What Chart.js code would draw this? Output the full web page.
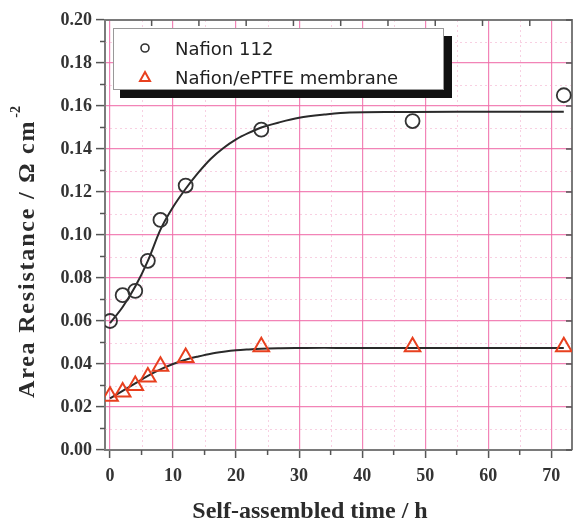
<!DOCTYPE html>
<html><head><meta charset="utf-8">
<script src="https://cdn.jsdelivr.net/npm/chart.js@4.4.1/dist/chart.umd.min.js"></script>
<style>html,body{margin:0;padding:0;background:#fff;}</style>
</head><body>
<canvas id="c" width="583" height="525"></canvas>
<script>
// ---- data ----
const timeH      = [0, 2, 4, 6, 8, 12, 24, 48, 72];
const nafion112  = [0.060, 0.072, 0.074, 0.088, 0.107, 0.123, 0.149, 0.153, 0.165];
const nafionPTFE = [0.025, 0.027, 0.030, 0.034, 0.039, 0.043, 0.048, 0.048, 0.048];
const fitTime    = [0, 2, 4, 6, 8, 10, 12, 14, 16, 18, 20, 22, 24, 27, 30, 34, 38, 45, 55, 72];
const fit112     = [0.059, 0.0665, 0.076, 0.088, 0.1025, 0.113, 0.1215, 0.129, 0.1355, 0.1405, 0.1445, 0.1475, 0.150, 0.1525, 0.1545, 0.156, 0.157, 0.1572, 0.1573, 0.1573];
const fitPTFE    = [0.024, 0.0275, 0.031, 0.0345, 0.0375, 0.040, 0.042, 0.0435, 0.0448, 0.0457, 0.0464, 0.0468, 0.0471, 0.0473, 0.0474, 0.0475, 0.0475, 0.0475, 0.0475, 0.0475];
const xTicks  = [0, 10, 20, 30, 40, 50, 60, 70];
const xMinor  = [5, 15, 25, 35, 45, 55, 65];
const yTicks  = [0, 0.02, 0.04, 0.06, 0.08, 0.10, 0.12, 0.14, 0.16, 0.18, 0.20];
const yMinor  = [0.01, 0.03, 0.05, 0.07, 0.09, 0.11, 0.13, 0.15, 0.17, 0.19];
const topTicks = [6.6, 14.1, 21.6, 29.1, 36.6, 44.1, 51.6, 59.1, 66.6];
const seriesLabels = ['Nafion 112', 'Nafion/ePTFE membrane'];
const xTitle = 'Self-assembled time / h';
const yTitle = 'Area Resistance / \u03A9 cm';
const yTitleSup = '-2';

const pts = (xs, ys) => xs.map((x, i) => ({x: x, y: ys[i]}));
const SERIF = '"Liberation Serif", "Times New Roman", serif';
const CIRCLE_COLOR = '#333333';
const TRI_COLOR = '#e8401f';

const decorPlugin = {
  id: 'decor',
  beforeDatasetsDraw(chart) {
    const {ctx, chartArea: a, scales: {x, y}} = chart;
    ctx.save();
    // minor dotted grid
    ctx.strokeStyle = 'rgba(240,150,190,0.45)';
    ctx.lineWidth = 1;
    ctx.setLineDash([2, 3]);
    xMinor.forEach(v => { const px = Math.round(x.getPixelForValue(v)) + 0.5; ctx.beginPath(); ctx.moveTo(px, a.top); ctx.lineTo(px, a.bottom); ctx.stroke(); });
    yMinor.forEach(v => { const py = Math.round(y.getPixelForValue(v)) + 0.5; ctx.beginPath(); ctx.moveTo(a.left, py); ctx.lineTo(a.right, py); ctx.stroke(); });
    ctx.setLineDash([]);
    // frame top & right
    ctx.strokeStyle = '#7a7a7a';
    ctx.lineWidth = 2;
    ctx.beginPath(); ctx.moveTo(a.left, a.top); ctx.lineTo(a.right, a.top); ctx.lineTo(a.right, a.bottom); ctx.stroke();
    // minor outward ticks
    ctx.strokeStyle = '#555';
    ctx.lineWidth = 1.5;
    xMinor.forEach(v => { const px = x.getPixelForValue(v); ctx.beginPath(); ctx.moveTo(px, a.bottom); ctx.lineTo(px, a.bottom + 5); ctx.stroke(); });
    yMinor.forEach(v => { const py = y.getPixelForValue(v); ctx.beginPath(); ctx.moveTo(a.left, py); ctx.lineTo(a.left - 5, py); ctx.stroke(); });
    // inward ticks on top and right
    topTicks.forEach(v => { const px = x.getPixelForValue(v); ctx.beginPath(); ctx.moveTo(px, a.top); ctx.lineTo(px, a.top + 6); ctx.stroke(); });
    yTicks.forEach(v => { const py = y.getPixelForValue(v); ctx.beginPath(); ctx.moveTo(a.right, py); ctx.lineTo(a.right - 6, py); ctx.stroke(); });
    ctx.restore();
  },
  afterDraw(chart) {
    const {ctx} = chart;
    ctx.save();
    // axis titles
    ctx.fillStyle = '#2b2b2b';
    ctx.font = 'bold 24px ' + SERIF;
    ctx.textAlign = 'center';
    ctx.textBaseline = 'alphabetic';
    ctx.fillText(xTitle, 310, 518);
    ctx.save();
    ctx.translate(34, 398);
    ctx.rotate(-Math.PI / 2);
    ctx.textAlign = 'left';
    try { ctx.letterSpacing = '1.8px'; } catch (e) {}
    ctx.font = 'bold 24px ' + SERIF;
    ctx.fillText(yTitle, 0, 0);
    const w = ctx.measureText(yTitle).width;
    try { ctx.letterSpacing = '0px'; } catch (e) {}
    ctx.font = 'bold 14px ' + SERIF;
    ctx.fillText(yTitleSup, w + 2, -14);
    ctx.restore();
    // legend box with shadow
    ctx.fillStyle = '#111';
    ctx.fillRect(120, 36, 332, 62);
    ctx.fillStyle = '#fff';
    ctx.fillRect(113, 28, 331, 62);
    ctx.strokeStyle = '#999';
    ctx.lineWidth = 1;
    ctx.strokeRect(113.5, 28.5, 330, 61);
    ctx.font = '18px "DejaVu Sans", Verdana, sans-serif';
    ctx.fillStyle = '#222';
    ctx.textAlign = 'left';
    ctx.fillText(chart.data.datasets[0].label, 175, 55);
    ctx.fillText(chart.data.datasets[1].label, 175, 84);
    // symbols
    ctx.lineWidth = 1.6;
    ctx.strokeStyle = CIRCLE_COLOR;
    ctx.beginPath(); ctx.arc(145, 48, 4, 0, Math.PI * 2); ctx.stroke();
    ctx.strokeStyle = TRI_COLOR;
    ctx.lineWidth = 2;
    ctx.beginPath(); ctx.moveTo(145, 72); ctx.lineTo(150, 81); ctx.lineTo(140, 81); ctx.closePath(); ctx.stroke();
    ctx.restore();
  }
};

const tickFont = {family: SERIF, weight: 'bold', size: 18};

new Chart(document.getElementById('c'), {
  type: 'scatter',
  data: {
    datasets: [
      {label: seriesLabels[0], data: pts(timeH, nafion112), pointStyle: 'circle', pointRadius: 7,
       pointBorderWidth: 1.8, borderColor: CIRCLE_COLOR, backgroundColor: 'rgba(0,0,0,0)', showLine: false, order: 1},
      {label: seriesLabels[1], data: pts(timeH, nafionPTFE), pointStyle: 'triangle', pointRadius: 9,
       pointBorderWidth: 2, borderColor: TRI_COLOR, backgroundColor: 'rgba(0,0,0,0)', showLine: false, order: 0},
      {label: 'fit112', data: pts(fitTime, fit112), showLine: true, pointRadius: 0, borderColor: '#2a2a2a',
       borderWidth: 2, tension: 0.4, cubicInterpolationMode: 'monotone', order: 2},
      {label: 'fitPTFE', data: pts(fitTime, fitPTFE), showLine: true, pointRadius: 0, borderColor: '#2a2a2a',
       borderWidth: 2, tension: 0.4, cubicInterpolationMode: 'monotone', order: 2}
    ]
  },
  options: {
    responsive: false,
    animation: false,
    layout: {padding: {top: 20, right: 4, left: 0, bottom: 0}},
    plugins: {legend: {display: false}, tooltip: {enabled: false}},
    scales: {
      x: {
        type: 'linear', min: -0.8, max: 73.3,
        afterBuildTicks: s => { s.ticks = xTicks.map(v => ({value: v})); },
        afterFit: s => { s.height = 75; },
        grid: {color: 'rgba(240,110,170,0.85)', lineWidth: 1.2, tickColor: '#555', tickLength: 8, tickWidth: 1.5},
        border: {color: '#7a7a7a', width: 2},
        ticks: {font: tickFont, color: '#333', padding: 8, maxRotation: 0, autoSkip: false, callback: v => String(v)}
      },
      y: {
        type: 'linear', min: 0, max: 0.2,
        afterBuildTicks: s => { s.ticks = yTicks.map(v => ({value: v})); },
        afterFit: s => { s.width = 105; },
        grid: {color: 'rgba(240,110,170,0.85)', lineWidth: 1.2, tickColor: '#555', tickLength: 9, tickWidth: 1.5},
        border: {color: '#7a7a7a', width: 2},
        ticks: {font: tickFont, color: '#333', padding: 4, autoSkip: false, callback: v => Number(v).toFixed(2)}
      }
    }
  },
  plugins: [decorPlugin]
});
</script>
</body></html>
